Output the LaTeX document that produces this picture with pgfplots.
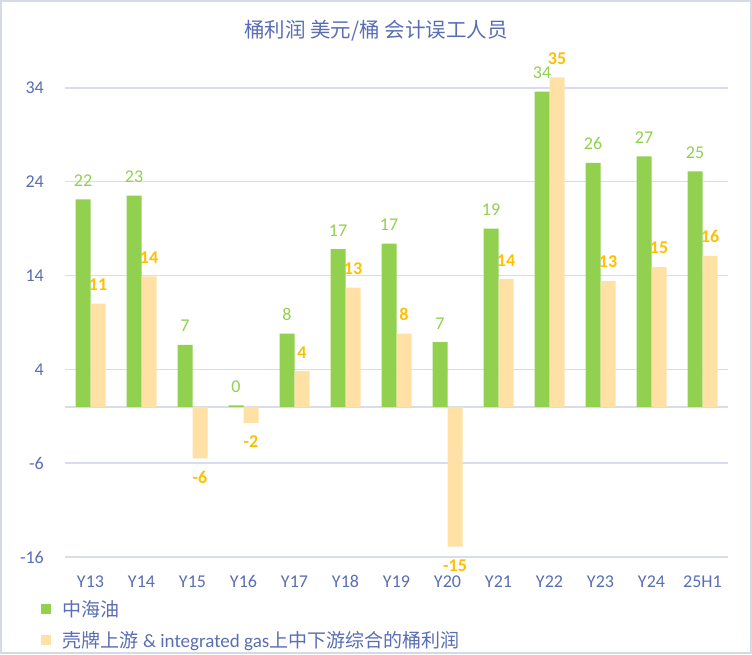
\documentclass[border=0pt]{standalone}
\usepackage{pgfplots}
\pgfplotsset{compat=1.18}
\usepackage{fontspec}
\setmainfont{Carlito}
\newfontfamily\cjk{Noto Sans CJK SC}
\definecolor{txt}{HTML}{5A6EB4}
\definecolor{gridc}{HTML}{D9DCEA}
\definecolor{frame}{HTML}{D6DAE6}
\definecolor{gbar}{HTML}{92D050}
\definecolor{obar}{HTML}{FFE1A6}
\definecolor{olab}{HTML}{FFC000}
\pgfplotstableread{
x g o
0 22.1 11.0
1 22.5 13.9
2 6.6 -5.5
3 0.17 -1.7
4 7.8 3.8
5 16.8 12.7
6 17.4 7.8
7 6.9 -14.9
8 19.0 13.6
9 33.6 35.1
10 26.0 13.4
11 26.7 14.9
12 25.1 16.1
}\datatab
\begin{document}
\begin{tikzpicture}
\useasboundingbox (0pt,0pt) rectangle (752pt,-654pt);
\fill[white] (0pt,0pt) rectangle (752pt,-654pt);
\draw[frame, line width=2pt] (1pt,-1pt) rectangle (751pt,-653pt);
\node[text=txt, font=\cjk\fontsize{20.5}{24}\selectfont, anchor=base] at (376pt,-37pt) {桶利润 美元/桶 会计误工人员};
\begin{axis}[
  at={(65pt,-557pt)}, anchor=south west,
  scale only axis, width=663pt, height=497.4pt,
  xmin=-0.5, xmax=12.5, ymin=-16, ymax=37,
  clip=false,
  ybar=0pt, bar width=15pt,
  axis line style={draw=none},
  major tick length=0pt,
  ymajorgrids, grid style={gridc, line width=1.5pt},
  ytick={-16,-6,4,14,24,34},
  xtick={0,...,12},
  xticklabels={Y13,Y14,Y15,Y16,Y17,Y18,Y19,Y20,Y21,Y22,Y23,Y24,25H1},
  /pgf/number format/assume math mode=true,
  yticklabel style={font=\fontsize{18}{21}\selectfont, text=txt, anchor=east, inner sep=0pt, xshift=-21pt},
  xticklabel style={font=\fontsize{18}{21}\selectfont, text=txt, anchor=base, inner sep=0pt, yshift=-30pt},
  nodes near coords={\pgfmathprintnumber[fixed,precision=0]{\pgfplotspointmeta}},
  nodes near coords style={inner sep=0pt, outer sep=13pt},
  legend style={draw=none, fill=none, at={(-0.0405,-0.079)}, anchor=north west,
     font=\fontsize{19}{22}\selectfont, text=txt, row sep=9.5pt,
     /tikz/every odd column/.append style={column sep=10pt}},
  legend cell align=left,
  legend image code/.code={\fill[#1, draw=none] (0pt,-4.5pt) rectangle (9.5pt,5pt);},
]
\draw[gridc, line width=1.5pt] (axis cs:-0.5,0) -- (axis cs:12.5,0);
\addplot[fill=gbar, draw=none, nodes near coords style={text=gbar, font=\fontsize{18}{21}\selectfont}] table[x=x,y=g] {\datatab};
\addplot[fill=obar, draw=none, nodes near coords style={text=olab, font=\bfseries\fontsize{18}{21}\selectfont}] table[x=x,y=o] {\datatab};
\legend{{\cjk 中海油},{\cjk 壳牌上游} \& integrated gas{\cjk 上中下游综合的桶利润}}
\end{axis}
\end{tikzpicture}
\end{document}
